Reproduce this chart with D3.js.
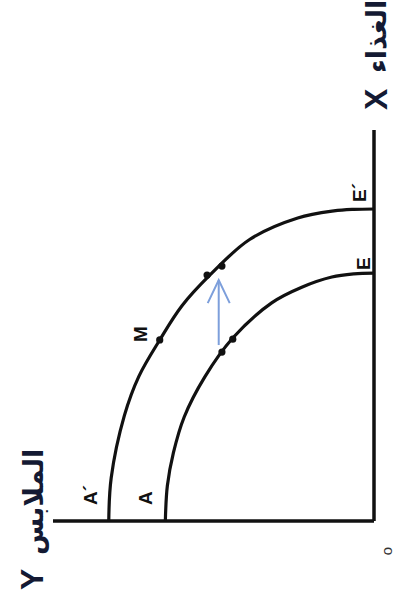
<!DOCTYPE html>
<html>
<head>
<meta charset="utf-8">
<script src="https://cdn.jsdelivr.net/npm/d3@7"></script>
<style>
  body { margin: 0; background: #fff; }
  svg { display: block; }
</style>
</head>
<body>
<svg id="svgppf"></svg>
<script>
// production possibilities curves (food on X, clothes on Y)
var innerFood    = [0, 0.9, 1.74, 2.66, 3.68, 4.68, 5.58, 5.98, 6.24, 6.32, 6.34];
var innerClothes = [5.2, 5.15, 5.0, 4.73, 4.22, 3.52, 2.55, 1.8, 1.05, 0.5, 0];
var outerFood    = [0, 1.1, 2.7, 3.7, 4.63, 5.5, 6.3, 7.2, 7.75, 7.93, 7.97, 7.98];
var outerClothes = [6.61, 6.55, 6.22, 5.86, 5.34, 4.79, 4.08, 3.1, 1.9, 1.0, 0.5, 0];

// marked points on the curves
var dotFood    = [4.32, 4.65, 6.29, 6.52, 4.63];
var dotClothes = [3.79, 3.52, 4.16, 3.79, 5.34];

// arrow showing the shift of the curve
var arrowFood    = [4.5, 6.16];
var arrowClothes = 3.87;

var axisMax = [10, 8];
var xLabel = ["X", "الغذاء"];
var yLabel = ["Y", "الملابس"];

var width = 394;
var height = 601;

var svg = d3.select("#svgppf")
    .attr("width", width)
    .attr("height", height);

svg.append("rect")
    .attr("width", width)
    .attr("height", height)
    .style("fill", "#fff");

// the whole chart is turned a quarter turn to the left
var g = svg.append("g")
    .attr("transform", "translate(0," + height + ") rotate(-90)");

var x = d3.scaleLinear().domain([0, axisMax[0]]).range([80, 471]);
var y = d3.scaleLinear().domain([0, axisMax[1]]).range([374, 53]);

var line = d3.line()
    .x(function(d) { return x(d[0]); })
    .y(function(d) { return y(d[1]); })
    .curve(d3.curveCatmullRom.alpha(0.5));

// axes
g.append("line")
    .attr("x1", x(0)).attr("y1", y(0))
    .attr("x2", x(axisMax[0])).attr("y2", y(0))
    .style("stroke", "#111").style("stroke-width", 3.5);
g.append("line")
    .attr("x1", x(0)).attr("y1", y(0))
    .attr("x2", x(0)).attr("y2", y(axisMax[1]))
    .style("stroke", "#111").style("stroke-width", 3.5);

// the two curves
var curves = [
  d3.zip(innerFood, innerClothes),
  d3.zip(outerFood, outerClothes)
];
g.selectAll("path.ppf")
    .data(curves)
    .enter()
    .append("path")
    .attr("class", "ppf")
    .attr("d", line)
    .style("fill", "none")
    .style("stroke", "#111")
    .style("stroke-width", 3.2);

// dots
g.selectAll("circle")
    .data(d3.zip(dotFood, dotClothes))
    .enter()
    .append("circle")
    .attr("cx", function(d) { return x(d[0]); })
    .attr("cy", function(d) { return y(d[1]); })
    .attr("r", 3.6)
    .style("fill", "#111");

// blue arrow
var ay = y(arrowClothes);
var tip = x(arrowFood[1]);
g.append("line")
    .attr("x1", x(arrowFood[0])).attr("y1", ay)
    .attr("x2", tip).attr("y2", ay)
    .style("stroke", "#7d9fdb").style("stroke-width", 2);
g.append("path")
    .attr("d", "M" + (tip - 23) + "," + (ay - 11) + "L" + tip + "," + ay + "L" + (tip - 23) + "," + (ay + 11))
    .style("fill", "none")
    .style("stroke", "#7d9fdb")
    .style("stroke-width", 2);

// point labels
var font = "'Liberation Sans', Arial, sans-serif";
var labels = [
  { t: "E",  x: x(innerFood[innerFood.length - 1]) + 3, y: y(0) - 4 },
  { t: "E´", x: x(outerFood[outerFood.length - 1]) + 7, y: y(0) - 8 },
  { t: "A",  x: x(0) + 16, y: y(innerClothes[0]) - 13 },
  { t: "A´", x: x(0) + 16, y: y(outerClothes[0]) - 12 },
  { t: "M",  x: x(dotFood[4]) - 2, y: y(dotClothes[4]) - 13 }
];
g.selectAll("text.pt")
    .data(labels)
    .enter()
    .append("text")
    .attr("class", "pt")
    .attr("x", function(d) { return d.x; })
    .attr("y", function(d) { return d.y; })
    .style("font-family", font)
    .style("font-size", "19px")
    .style("font-weight", "bold")
    .style("fill", "#111")
    .text(function(d) { return d.t; });

// origin
g.append("text")
    .attr("x", x(0) - 30)
    .attr("y", y(0) + 18)
    .attr("text-anchor", "middle")
    .style("font-family", font)
    .style("font-size", "15px")
    .style("fill", "#333")
    .text("o");

// axis titles
g.append("text")
    .attr("x", x(axisMax[0]) + 20)
    .attr("y", y(0) + 13)
    .style("font-family", font)
    .style("font-size", "32px")
    .style("font-weight", "bold")
    .style("fill", "#141a33")
    .text(xLabel[0]);
g.append("text")
    .attr("x", x(axisMax[0]) + 57)
    .attr("y", y(0) + 12)
    .style("font-family", "'DejaVu Sans', sans-serif")
    .style("font-size", "27px")
    .style("font-weight", "bold")
    .style("fill", "#141a33")
    .text(xLabel[1]);

g.append("text")
    .attr("x", 11)
    .attr("y", y(axisMax[1]) - 10)
    .style("font-family", font)
    .style("font-size", "32px")
    .style("font-weight", "bold")
    .style("fill", "#141a33")
    .text(yLabel[0]);
g.append("text")
    .attr("x", 46)
    .attr("y", y(axisMax[1]) - 10)
    .style("font-family", "'DejaVu Sans', sans-serif")
    .style("font-size", "27px")
    .style("font-weight", "bold")
    .style("fill", "#141a33")
    .text(yLabel[1]);
</script>
</body>
</html>
